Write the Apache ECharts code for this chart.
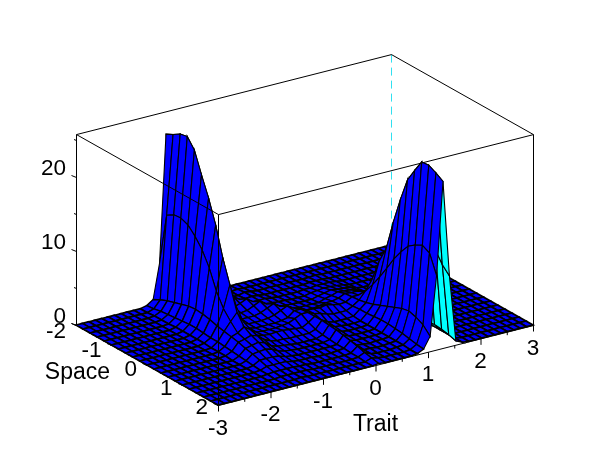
<!DOCTYPE html>
<html><head><meta charset="utf-8">
<style>html,body{margin:0;padding:0;background:#fff}#c{width:610px;height:460px}</style>
<script src="https://cdn.jsdelivr.net/npm/echarts@6/dist/echarts.min.js"></script>
</head><body><div id="c"></div>
<script>
// 50 trait samples from -3 to 3, 21 space samples from -2 to 2
const traitCount = 50;
const spaceCount = 21;
const traitTicks = [-3,-2,-1,0,1,2,3];
const spaceTicks = [-2,-1,0,1,2];
const heightTicks = [0,10,20];
const traitMinor = [-2.5,-1.5,-0.5,0.5,1.5,2.5];
const spaceMinor = [-1.5,-0.5,0.5,1.5];
const heightMinor = [5,15,25];
const heightTop = 25.8;
// surface heights: one row per space sample, one column per trait sample
const z00=[0,0,0,0,0,0,0,0,0,0, 0,.2,.8,5.5,22.7,12.5,3,.9, .3,.1,0,0,0,0,0,0,0,0,0,0,0, 0,0,0,0,0,0,0,0,0, 0,0,0,0,0,0,0,0,0,0];
const z01=[0,0,0,0,0,0,0,0,0,0, 0,.3,1.3,12.5,23.2,12.8,3.2,1, .6,.3,.1,0,0,0,.1,0,0,0,0,0,0, 0,0,0,0,0,0,0,0,0, 0,0,0,0,0,0,0,0,0,0];
const z02=[0,0,0,0,0,0,0,0,0,0, .1,.5,1.7,13.1,23.8,13,3.3,1, 1.1,.8,.4,.1,0,0,.2,.1,0,0,0,0,0, 0,0,0,0,.1,0,0,0,0, 0,0,0,0,0,0,0,0,0,0];
const z03=[0,0,0,0,0,0,0,0,0,0, .1,.6,2,13.2,24,13.2,3.4,1.1, 1,1.4,1,.4,.1,.1,.2,.1,0,0,0,0,0, 0,0,.1,.1,.1,0,0,0,0, 0,0,0,0,0,0,0,0,0,0];
const z04=[0,0,0,0,0,0,0,0,0,0, .1,.7,2.3,12.8,22.7,12.5,3.2,1.1, .8,1.2,1.6,1,.4,.2,.2,.2,.1,0,0,0,0, .1,.1,.2,.2,.2,.1,0,0,0, 0,0,0,0,0,0,0,0,0,0];
const z05=[0,0,0,0,0,0,0,0,0,0, .2,.8,2.6,11.8,19.9,11,2.8,1, .7,.9,1.2,1.6,1,.5,.3,.2,.1,.1,0,0,0, .2,.3,.4,.4,.3,.2,0,0,0, 0,0,0,0,0,0,0,0,0,0];
const z06=[0,0,0,0,0,0,0,0,0,0, .2,.9,2.7,10.5,17.3,9.5,2.5,1, .6,.7,.8,1.2,1.6,1,.5,.3,.2,.1,.1,.1,.1, .3,.5,.7,.6,.5,.4,.1,0,0, 0,0,0,0,0,0,0,0,0,0];
const z07=[0,0,0,0,0,0,0,0,0,0, .2,.9,2.6,8.6,14.2,8,2,.9, .6,.6,.6,.8,1.2,1.6,1,.5,.3,.2,.2,.2,.2, .5,.7,1,.9,.8,.6,.2,0,0, 0,0,0,0,0,0,0,0,0,0];
const z08=[0,0,0,0,0,0,0,0,0,0, .2,.8,2.4,6,10.3,6,1.6,.8, .5,.5,.5,.6,.8,1.2,1.6,1.1,.6,.4,.4,.5,.7, .7,.9,1.3,1.2,1.2,.9,.2,0,0, 0,0,0,0,0,0,0,0,0,0];
const z09=[0,0,0,0,0,0,0,0,0,0, .2,.7,2.1,4.2,7.2,4,1.2,.7, .5,.5,.5,.5,.6,.8,1.5,1.5,1.1,1.1,1,1.2,1, .8,.9,1.4,1.4,1.6,1.2,.3,0,0, 0,0,0,0,0,0,0,0,0,0];
const z10=[0,0,0,0,0,0,0,0,0,0, .1,.7,1.9,3,4,2.5,1,.7, .6,.6,.6,.7,.8,1.2,1.6,1.6,1.2,1,.7,.5,.5, .5,.9,1.5,2.5,3.8,1.8,.3,0,0, 0,0,0,0,0,0,0,0,0,0];
const z11=[0,0,0,0,0,0,0,0,0,0, .1,.6,1.7,2,2.6,2,1,.8, .7,.8,.8,.7,.6,.5,1,1.6,.9,.4,.2,.2,.2, .3,1,1.7,3.9,6.8,3,.4,0,0, 0,0,0,0,0,0,0,0,0,0];
const z12=[0,0,0,0,0,0,0,0,0,0, .1,.5,1.5,1.7,2,1.7,1,.6, .4,.4,.3,.3,.3,.3,.6,1.6,.8,.3,.2,.1,.1, .2,1,2,5.5,9.1,4.5,.5,0,0, 0,0,0,0,0,0,0,0,0,0];
const z13=[0,0,0,0,0,0,0,0,0,0, 0,.4,1.2,1.4,1.6,1.3,.7,.4, .3,.2,.1,.1,.1,.1,.4,1.5,.6,.2,.1,.1,.1, .2,1.1,2.4,7.2,13.2,6.3,.6,0,0, 0,0,0,0,0,0,0,0,0,0];
const z14=[0,0,0,0,0,0,0,0,0,0, 0,.3,1,1.1,1.2,1,.5,.3, .2,.1,.1,.1,.1,.1,.3,1.4,.5,.1,.1,.1,.1, .2,1.2,2.8,9,16.8,8,.8,.1,0, 0,0,0,0,0,0,0,0,0,0];
const z15=[0,0,0,0,0,0,0,0,0,0, 0,.2,.7,.7,.7,.6,.3,.2, .1,.1,.1,.1,.1,.1,.2,1.2,.3,.1,.1,.1,.1, .2,1.2,3.2,10.5,20,9.5,.9,.1,0, 0,0,0,0,0,0,0,0,0,0];
const z16=[0,0,0,0,0,0,0,0,0,0, 0,.1,.4,.4,.4,.4,.2,.1, .1,.1,0,0,0,.1,.2,1,.2,.1,0,.1,.1, .2,1.1,3.6,11.8,21.8,11,1,.1,0, 0,0,0,0,0,0,0,0,0,0];
const z17=[0,0,0,0,0,0,0,0,0,0, 0,.1,.2,.2,.2,.2,.1,.1, 0,0,0,0,0,0,.1,.8,.1,.1,0,0,.1, .2,1,3.8,12.5,23.5,11.8,1.1,.1,0, 0,0,0,0,0,0,0,0,0,0];
const z18=[0,0,0,0,0,0,0,0,0,0, 0,0,.1,.1,.1,.1,.1,0, 0,0,0,0,0,0,.1,.5,.1,0,0,0,.1, .2,.8,3.5,13,23.6,12,1,.1,0, 0,0,0,0,0,0,0,0,0,0];
const z19=[0,0,0,0,0,0,0,0,0,0, 0,0,0,0,.1,0,0,0, 0,0,0,0,0,0,0,.3,.1,0,0,0,0, .1,.6,3,12.5,23.1,10.5,.8,.1,0, 0,0,0,0,0,0,0,0,0,0];
const z20=[0,0,0,0,0,0,0,0,0,0, 0,0,0,0,0,0,0,0, 0,0,0,0,0,0,0,.1,0,0,0,0,0, .1,.5,2,10,22.5,9.5,.5,.1,0, 0,0,0,0,0,0,0,0,0,0];
const heights=[z00,z01,z02,z03,z04,z05,z06,z07,z08,z09,z10,z11,z12,z13,z14,z15,z16,z17,z18,z19,z20];

const traitAt=k=>-3+6*k/(traitCount-1);
const spaceAt=i=>-2+4*i/(spaceCount-1);
// orthographic view of the 3-D box onto a 610x460 plane
function project(t,s,z){
  return [76+52.5*(t+3)+35.5*(s+2), 325-13.33*(t+3)+20*(s+2)-7.4*z];
}
// cells, far to near
const cells=[];
for(let i=0;i<spaceCount-1;i++)for(let k=traitCount-2;k>=0;k--)cells.push([k,i]);

function renderCell(params,api){
  const k=api.value(0),i=api.value(1);
  const verts=[[k,i],[k+1,i],[k+1,i+1],[k,i+1]];
  const corners=verts.map(([a,b])=>api.coord(project(traitAt(a),spaceAt(b),heights[b][a])));
  const peak=Math.max(...verts.map(([a,b])=>heights[b][a]));
  const ax=corners[1][0]-corners[0][0],ay=corners[1][1]-corners[0][1];
  const bx=corners[3][0]-corners[0][0],by=corners[3][1]-corners[0][1];
  const cx=corners[2][0]-corners[1][0],cy=corners[2][1]-corners[1][1];
  const dx=corners[2][0]-corners[3][0],dy=corners[2][1]-corners[3][1];
  const top=(ax*by-ay*bx)+(dx*cy-dy*cx)>0;
  return {type:'polygon',shape:{points:corners},
    style:{fill:top?'#0000ff':'#00ffff',stroke:'#000',lineWidth:peak<0.3?1.7:(peak<3?1.35:1.1)},silent:true};
}
const Z=0;
const segs=[];
const box=(a,b,c)=>segs.push([a[0],a[1],a[2],b[0],b[1],b[2],c||0,0,0]);
// frame
box([-3,-2,Z],[-3,-2,heightTop]);
box([-3,-2,heightTop],[-3,2,heightTop]);
box([-3,2,heightTop],[3,2,heightTop]);
box([3,2,heightTop],[3,-2,heightTop]);
box([3,-2,heightTop],[-3,-2,heightTop]);
box([-3,2,heightTop],[-3,2,Z]);
box([3,2,heightTop],[3,2,Z]);
box([-3,2,Z],[3,2,Z]);
box([-3,-2,Z],[-3,2,Z]);
function renderSeg(params,api){
  const a=api.coord(project(api.value(0),api.value(1),api.value(2)));
  const b=api.coord(project(api.value(3),api.value(4),api.value(5)));
  return {type:'line',x:.5,y:.5,shape:{x1:a[0],y1:a[1],x2:b[0],y2:b[1]},
    style:{stroke:'#000',lineWidth:1},silent:true};
}
// ticks: [trait, space, z, dx, dy]
const ticks=[];
traitTicks.forEach(t=>ticks.push([t,2,0,0,6]));
traitMinor.forEach(t=>ticks.push([t,2,0,0,3]));
spaceTicks.forEach(s=>ticks.push([-3,s,0,-5,-2]));
spaceMinor.forEach(s=>ticks.push([-3,s,0,-2.5,-1]));
heightTicks.forEach(z=>ticks.push([-3,-2,z,-5,-2]));
heightMinor.forEach(z=>ticks.push([-3,-2,z,-2.5,-1]));
function renderTick(params,api){
  const a=api.coord(project(api.value(0),api.value(1),api.value(2)));
  return {type:'line',x:.5,y:.5,shape:{x1:a[0],y1:a[1],x2:a[0]+api.value(3),y2:a[1]+api.value(4)},
    style:{stroke:'#000',lineWidth:1},silent:true};
}
// labels: [trait, space, z, dx, dy, text, align, fontSize]
const labels=[];
traitTicks.forEach(t=>labels.push([t,2,0,0,23.5,String(t),'center',22.5]));
spaceTicks.forEach(s=>labels.push([-3,s,0,-10,4.5-s,String(s),'right',22.5]));
heightTicks.forEach(z=>labels.push([-3,-2,z,-10,-8.5,String(z),'right',22.5]));
labels.push([0,2,0,0,60,'Trait','center',23]);
labels.push([-3,0,0,-37,8,'Space','right',23]);
function renderLabel(params,api){
  const a=api.coord(project(api.value(0),api.value(1),api.value(2)));
  return {type:'text',style:{text:api.value(5),x:a[0]+api.value(3),y:a[1]+api.value(4),
    font:api.value(7)+'px "Liberation Sans", Arial, sans-serif',fill:'#000',align:api.value(6),verticalAlign:'middle'},silent:true};
}
const backEdge=[[3,-2,heightTop,3,-2,0]];
function renderBack(params,api){
  const a=api.coord(project(api.value(0),api.value(1),api.value(2)));
  const b=api.coord(project(api.value(3),api.value(4),api.value(5)));
  return {type:'line',x:.5,y:.5,shape:{x1:a[0],y1:a[1],x2:b[0],y2:b[1]},
    style:{stroke:'#30e0f0',lineWidth:1,lineDash:[8,5]},silent:true};
}
const chart=echarts.init(document.getElementById('c'),null,{renderer:'canvas'});
const common={type:'custom',coordinateSystem:'cartesian2d',clip:false,animation:false,silent:true};
chart.setOption({
  animation:false,backgroundColor:'#fff',
  grid:{left:0,right:0,top:0,bottom:0},
  xAxis:{type:'value',min:0,max:610,show:false},
  yAxis:{type:'value',min:0,max:460,inverse:true,show:false},
  tooltip:{show:false},
  series:[
    {...common,name:'back edge',renderItem:renderBack,data:backEdge,z:1},
    {...common,name:'surface',renderItem:renderCell,data:cells,z:2},
    {...common,name:'frame',renderItem:renderSeg,data:segs,z:3},
    {...common,name:'ticks',renderItem:renderTick,data:ticks,z:3},
    {...common,name:'labels',renderItem:renderLabel,data:labels,z:4,
     dimensions:['t','s','z','dx','dy',{name:'text',type:'ordinal'},{name:'align',type:'ordinal'},'size']}
  ]
});
</script></body></html>
